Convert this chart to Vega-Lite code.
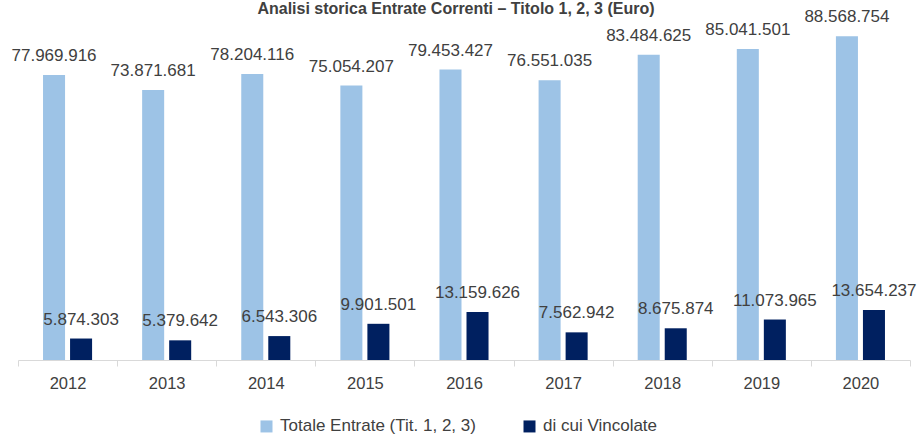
{
  "$schema": "https://vega.github.io/schema/vega-lite/v6.json",
  "width": 892,
  "height": 347.3,
  "autosize": {"type": "none"},
  "padding": {"left": 18, "top": 12.7, "right": 10, "bottom": 77},
  "background": "white",
  "title": {
    "text": "Analisi storica Entrate Correnti – Titolo 1, 2, 3 (Euro)",
    "font": "Liberation Sans",
    "fontSize": 16,
    "fontWeight": "bold",
    "color": "#404040",
    "anchor": "middle",
    "frame": "group",
    "baseline": "bottom",
    "offset": 0,
    "dx": -8,
    "dy": 25
  },
  "data": {
    "values": [
      {"anno": "2012", "serie": "Totale Entrate (Tit. 1, 2, 3)", "valore": 77969916},
      {"anno": "2012", "serie": "di cui Vincolate", "valore": 5874303},
      {"anno": "2013", "serie": "Totale Entrate (Tit. 1, 2, 3)", "valore": 73871681},
      {"anno": "2013", "serie": "di cui Vincolate", "valore": 5379642},
      {"anno": "2014", "serie": "Totale Entrate (Tit. 1, 2, 3)", "valore": 78204116},
      {"anno": "2014", "serie": "di cui Vincolate", "valore": 6543306},
      {"anno": "2015", "serie": "Totale Entrate (Tit. 1, 2, 3)", "valore": 75054207},
      {"anno": "2015", "serie": "di cui Vincolate", "valore": 9901501},
      {"anno": "2016", "serie": "Totale Entrate (Tit. 1, 2, 3)", "valore": 79453427},
      {"anno": "2016", "serie": "di cui Vincolate", "valore": 13159626},
      {"anno": "2017", "serie": "Totale Entrate (Tit. 1, 2, 3)", "valore": 76551035},
      {"anno": "2017", "serie": "di cui Vincolate", "valore": 7562942},
      {"anno": "2018", "serie": "Totale Entrate (Tit. 1, 2, 3)", "valore": 83484625},
      {"anno": "2018", "serie": "di cui Vincolate", "valore": 8675874},
      {"anno": "2019", "serie": "Totale Entrate (Tit. 1, 2, 3)", "valore": 85041501},
      {"anno": "2019", "serie": "di cui Vincolate", "valore": 11073965},
      {"anno": "2020", "serie": "Totale Entrate (Tit. 1, 2, 3)", "valore": 88568754},
      {"anno": "2020", "serie": "di cui Vincolate", "valore": 13654237}
    ]
  },
  "encoding": {
    "x": {
      "field": "anno",
      "type": "nominal",
      "scale": {"paddingInner": 0, "paddingOuter": 0},
      "axis": {
        "title": null,
        "labelAngle": 0,
        "tickBand": "extent",
        "domainColor": "#D9D9D9",
        "tickColor": "#D9D9D9",
        "tickSize": 6,
        "labelFont": "Liberation Sans",
        "labelFontSize": 16.5,
        "labelColor": "#404040",
        "labelPadding": 9
      }
    },
    "xOffset": {
      "field": "serie",
      "type": "nominal",
      "sort": ["Totale Entrate (Tit. 1, 2, 3)", "di cui Vincolate"],
      "scale": {"paddingInner": 0.185, "paddingOuter": 0.926}
    },
    "y": {
      "field": "valore",
      "type": "quantitative",
      "scale": {"domain": [0, 95000000]},
      "axis": null
    }
  },
  "layer": [
    {
      "mark": {"type": "bar"},
      "encoding": {
        "color": {
          "field": "serie",
          "type": "nominal",
          "sort": ["Totale Entrate (Tit. 1, 2, 3)", "di cui Vincolate"],
          "scale": {
            "domain": ["Totale Entrate (Tit. 1, 2, 3)", "di cui Vincolate"],
            "range": ["#9DC3E6", "#002060"]
          },
          "legend": {
            "title": null,
            "orient": "none",
            "direction": "horizontal",
            "legendX": 240,
            "legendY": 405,
            "symbolType": "square",
            "symbolSize": 144,
            "symbolStrokeWidth": 0,
            "labelFont": "Liberation Sans",
            "labelFontSize": 17,
            "labelColor": "#404040",
            "labelOffset": 5,
            "columnPadding": 45,
            "labelLimit": 400,
            "padding": 0
          }
        }
      }
    },
    {
      "mark": {
        "type": "text",
        "baseline": "alphabetic",
        "dy": -14,
        "font": "Liberation Sans",
        "fontSize": 17,
        "color": "#404040"
      },
      "encoding": {
        "text": {"field": "valore", "type": "quantitative", "format": ",.0f"}
      }
    }
  ],
  "config": {
    "view": {"stroke": null},
    "locale": {
      "number": {
        "decimal": ",",
        "thousands": ".",
        "grouping": [3],
        "currency": ["", " €"]
      }
    }
  }
}
